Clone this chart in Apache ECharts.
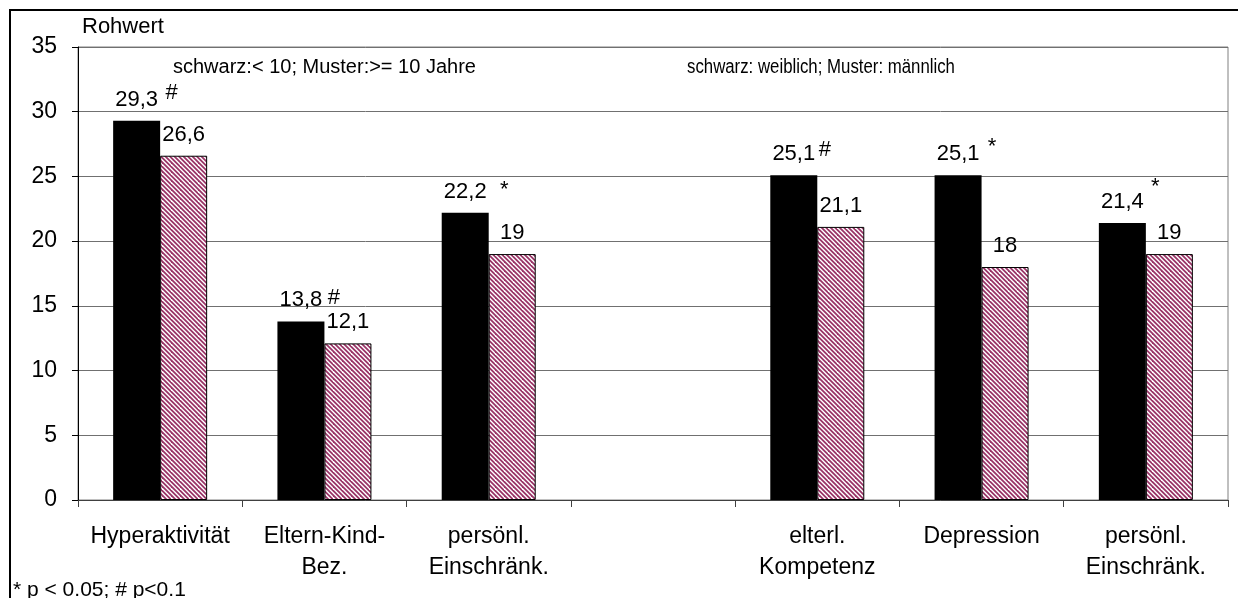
<!DOCTYPE html>
<html>
<head>
<meta charset="utf-8">
<title>Rohwert</title>
<script src="https://cdn.jsdelivr.net/npm/echarts@6/dist/echarts.min.js"></script>
<style>
  html, body { margin: 0; padding: 0; background: #fff; }
  #chart { width: 1238px; height: 598px; }
</style>
</head>
<body>
<div id="chart"></div>
<script>
// Scale categories (left group: age, right group: sex; an empty slot between)
const categories = [
  'Hyperaktivität',
  'Eltern-Kind-\nBez.',
  'persönl.\nEinschränk.',
  '',
  'elterl.\nKompetenz',
  'Depression',
  'persönl.\nEinschränk.'
];
// Black bars: < 10 Jahre / weiblich
const blackValues = [29.3, 13.8, 22.2, '-', 25.1, 25.1, 21.4];
// Striped bars: >= 10 Jahre / männlich
const patternValues = [26.6, 12.1, 19, '-', 21.1, 18, 19];
// Significance markers next to the black bar labels
const markers = ['#', '#', '*', '', '#', '*', '*'];
// Y axis ticks
const yMin = 0, yMax = 35, yStep = 5;

// Marker placement relative to the top centre of the black bar (style only)
const markerOffsets = [[35, -28], [33, -23], [39, -23], null, [31, -25], [34, -28], [33, -36]];

const FONT = 'Liberation Sans, Arial, Helvetica, sans-serif';

// Diagonal stripes (top-left to bottom-right), plum on white
function stripePattern() {
  const size = 9, period = 4.5;
  const c = document.createElement('canvas');
  c.width = size; c.height = size;
  const ctx = c.getContext('2d');
  ctx.fillStyle = '#ffffff';
  ctx.fillRect(0, 0, size, size);
  ctx.strokeStyle = '#993366';
  ctx.lineWidth = 1.75;
  for (let k = -4; k <= 4; k++) {
    const c0 = k * period;
    ctx.beginPath();
    ctx.moveTo(c0 - 20, -20);
    ctx.lineTo(c0 + 20, 20);
    ctx.stroke();
  }
  return c;
}

const fmt = p => String(p.value).replace('.', ',');

const chart = echarts.init(document.getElementById('chart'), null, { renderer: 'canvas' });

const markData = markers.map((m, i) => m ? {
  name: m,
  coord: [i, blackValues[i]],
  label: { offset: markerOffsets[i] }
} : null).filter(Boolean);

chart.setOption({
  backgroundColor: '#ffffff',
  animation: false,
  textStyle: { fontFamily: FONT },
  grid: {
    left: 78, right: 10, top: 47, bottom: 98,
    containLabel: false,
    outerBoundsMode: 'none',
    show: true,
    borderColor: '#808080',
    borderWidth: 1,
    backgroundColor: 'transparent'
  },
  xAxis: {
    type: 'category',
    data: categories,
    axisLine: { show: true, lineStyle: { color: '#404040', width: 1 } },
    axisTick: { show: true, length: 7, alignWithLabel: false, lineStyle: { color: '#404040' } },
    axisLabel: {
      interval: 0, margin: 21, fontSize: 23, lineHeight: 31,
      color: '#000', fontFamily: FONT
    },
    splitLine: { show: false }
  },
  yAxis: {
    type: 'value',
    min: yMin, max: yMax, interval: yStep,
    axisLine: { show: true, lineStyle: { color: '#000', width: 1 } },
    axisTick: { show: true, length: 6, inside: false, lineStyle: { color: '#000' } },
    axisLabel: { margin: 21, fontSize: 23, color: '#000', fontFamily: FONT },
    splitLine: { show: true, lineStyle: { color: '#707070', width: 1 } }
  },
  series: [
    {
      type: 'bar',
      name: 'schwarz',
      data: blackValues,
      barWidth: 47,
      barGap: '0%',
      itemStyle: { color: '#000000' },
      label: {
        show: true, position: 'top', distance: 10,
        fontSize: 22, color: '#000', fontFamily: FONT,
        formatter: fmt
      },
      markPoint: {
        symbol: 'circle',
        symbolSize: 1,
        itemStyle: { color: 'rgba(0,0,0,0)' },
        label: {
          show: true, position: 'inside', formatter: '{b}',
          fontSize: 22, color: '#000', fontFamily: FONT
        },
        data: markData
      }
    },
    {
      type: 'bar',
      name: 'Muster',
      data: patternValues,
      barWidth: 47,
      barGap: '0%',
      itemStyle: {
        color: { image: stripePattern(), repeat: 'repeat' },
        borderColor: '#000',
        borderWidth: 1
      },
      label: {
        show: true, position: 'top', distance: 10,
        fontSize: 22, color: '#000', fontFamily: FONT,
        formatter: fmt
      }
    }
  ],
  graphic: [
    {
      type: 'rect', silent: true, z: 100,
      shape: { x: 10, y: 10, width: 1400, height: 800 },
      style: { fill: 'none', stroke: '#000', lineWidth: 2 }
    },
    {
      type: 'text', left: 82, top: 16,
      style: { text: 'Rohwert', font: '22px ' + FONT, fill: '#000' }
    },
    {
      type: 'text', x: 173, y: 67,
      style: {
        text: 'schwarz:< 10; Muster:>= 10 Jahre', font: '20px ' + FONT, fill: '#000',
        verticalAlign: 'middle', align: 'left'
      }
    },
    {
      // condensed caption on the right half
      type: 'text', x: 687, y: 67, scaleX: 0.84,
      style: {
        text: 'schwarz: weiblich; Muster: männlich', font: '20px ' + FONT, fill: '#000',
        verticalAlign: 'middle', align: 'left'
      }
    },
    {
      type: 'text', left: 13, top: 580,
      style: { text: '* p < 0.05; # p<0.1', font: '21px ' + FONT, fill: '#000' }
    }
  ]
});
</script>
</body>
</html>
